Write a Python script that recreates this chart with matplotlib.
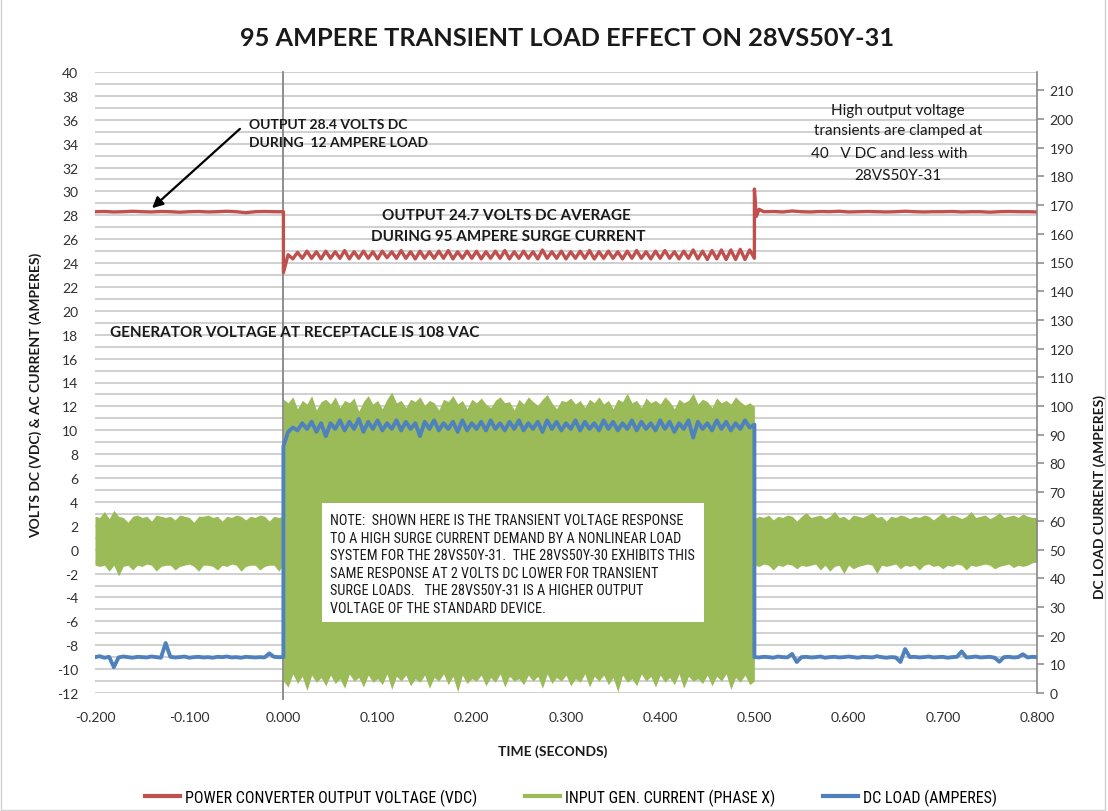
import numpy as np
import matplotlib
matplotlib.use("Agg")
import matplotlib.pyplot as plt
from matplotlib.lines import Line2D
from matplotlib.patches import Rectangle

# ---------------- data ----------------
title = "95 AMPERE TRANSIENT LOAD EFFECT ON 28VS50Y-31"
x_ticks = [-0.2, -0.1, 0.0, 0.1, 0.2, 0.3, 0.4, 0.5, 0.6, 0.7, 0.8]
left_ticks = list(range(-12, 41, 2))
right_ticks = list(range(0, 211, 10))
series_names = ["POWER CONVERTER OUTPUT VOLTAGE (VDC)",
                "INPUT GEN. CURRENT (PHASE X)",
                "DC LOAD (AMPERES)"]

# Power converter output voltage (VDC) - left axis
red_pre_t0, red_pre_dt = -0.20, 0.01          # -0.20 .. 0.00
red_pre = [28.30, 28.32, 28.28, 28.30, 28.34, 28.30, 28.28, 28.32, 28.30, 28.26,
           28.30, 28.32, 28.28, 28.30, 28.34, 28.30, 28.22, 28.30, 28.32, 28.30,
           28.30]
red_surge_t0, red_surge_dt = 0.0, 0.005       # 0.000 .. 0.500
red_surge = [23.20, 24.70, 24.35, 24.90, 24.40, 25.00, 24.40, 24.95, 24.35, 25.00,
             24.40, 24.95, 24.40, 25.05, 24.35, 24.95, 24.40, 25.00, 24.40, 24.95,
             24.35, 25.00, 24.45, 24.95, 24.40, 25.05, 24.40, 24.95, 24.35, 25.00,
             24.40, 24.95, 24.40, 25.00, 24.40, 25.05, 24.35, 24.95, 24.40, 25.00,
             24.40, 25.00, 24.35, 24.95, 24.40, 25.00, 24.40, 25.05, 24.35, 24.95,
             24.40, 25.00, 24.40, 24.95, 24.35, 25.10, 24.40, 24.95, 24.40, 25.00,
             24.35, 24.95, 24.40, 25.00, 24.40, 25.05, 24.35, 24.95, 24.40, 25.00,
             24.40, 24.95, 24.35, 25.00, 24.40, 25.05, 24.40, 24.95, 24.35, 25.00,
             24.40, 25.05, 24.40, 24.95, 24.35, 25.00, 24.40, 25.10, 24.35, 25.00,
             24.30, 25.05, 24.35, 25.10, 24.30, 25.10, 24.30, 25.15, 24.30, 25.10,
             24.40]
red_post_t = [0.500, 0.502, 0.505, 0.51, 0.52, 0.53, 0.54, 0.55, 0.56, 0.57,
              0.58, 0.59, 0.60, 0.61, 0.62, 0.63, 0.64, 0.65, 0.66, 0.67,
              0.68, 0.69, 0.70, 0.71, 0.72, 0.73, 0.74, 0.75, 0.76, 0.77,
              0.78, 0.79, 0.80]
red_post = [30.20, 27.90, 28.50, 28.30, 28.32, 28.28, 28.36, 28.30, 28.28, 28.32,
            28.30, 28.34, 28.28, 28.30, 28.32, 28.30, 28.28, 28.30, 28.34, 28.30,
            28.28, 28.30, 28.30, 28.32, 28.28, 28.30, 28.30, 28.26, 28.30, 28.32,
            28.30, 28.30, 28.28]

# DC load (amperes) - right axis
blue_pre_t0, blue_pre_dt = -0.20, 0.005       # -0.200 .. 0.000
blue_pre = [12.5, 12.8, 12.3, 12.6, 9.0, 12.4, 12.7, 12.5, 12.3, 12.6,
            12.5, 12.4, 12.7, 12.5, 12.3, 17.4, 12.6, 12.4, 12.5, 12.7,
            12.3, 12.5, 12.6, 12.4, 12.5, 12.3, 12.6, 12.5, 12.7, 12.4,
            12.5, 12.3, 12.6, 12.5, 12.4, 12.5, 12.4, 13.8, 12.6, 12.5,
            12.5]
blue_surge_t0, blue_surge_dt = 0.0, 0.005     # 0.000 .. 0.500
blue_surge = [86.0, 91.0, 92.5, 91.5, 94.0, 92.0, 94.5, 91.0, 94.0, 89.5,
              94.0, 92.0, 95.0, 91.5, 94.5, 92.0, 95.5, 91.0, 94.5, 92.0,
              95.0, 91.5, 94.0, 92.0, 95.0, 91.5, 94.5, 92.0, 94.0, 89.5,
              94.5, 92.0, 95.0, 91.5, 94.0, 92.0, 94.5, 91.0, 95.0, 91.5,
              94.0, 92.0, 94.5, 91.5, 95.0, 92.0, 94.0, 91.5, 94.5, 92.0,
              95.0, 91.5, 94.0, 92.0, 94.5, 91.0, 95.0, 92.0, 94.5, 91.5,
              94.0, 92.0, 95.0, 91.5, 94.5, 92.0, 94.0, 91.5, 95.0, 92.0,
              94.5, 91.5, 94.0, 92.0, 95.0, 91.5, 94.5, 92.0, 94.0, 91.5,
              95.0, 92.0, 94.5, 91.0, 94.0, 92.0, 95.0, 89.0, 94.5, 92.0,
              94.0, 91.5, 95.0, 92.0, 94.5, 91.5, 94.0, 92.0, 95.0, 92.5,
              93.5]
blue_post_t0, blue_post_dt = 0.50, 0.005      # 0.500 .. 0.800
blue_post = [12.5, 12.4, 12.6, 12.5, 12.3, 12.7, 12.5, 12.4, 13.6, 10.8,
             12.5, 12.6, 12.4, 12.5, 12.7, 12.3, 12.5, 12.6, 12.4, 12.5,
             12.7, 12.5, 12.3, 12.6, 12.5, 12.4, 12.8, 12.5, 12.3, 12.5,
             12.4, 10.8, 15.3, 12.5, 12.6, 12.4, 12.5, 12.7, 12.4, 12.5,
             12.6, 12.3, 12.5, 12.6, 14.5, 12.4, 12.5, 12.7, 12.4, 12.5,
             12.6, 12.3, 10.9, 12.5, 12.6, 12.4, 12.5, 13.5, 12.4, 12.6,
             12.5]

# Input generator current (phase X) - left axis, upper / lower envelope of the AC trace
green_pre_t0, green_pre_dt = -0.20, 0.005
green_pre_hi = [2.8, 2.7, 3.2, 2.6, 3.3, 2.8, 2.7, 2.3, 2.8, 2.9,
                2.7, 2.8, 2.4, 2.9, 2.8, 2.7, 2.8, 2.5, 2.9, 2.8,
                2.7, 2.3, 2.8, 2.8, 2.9, 2.7, 2.8, 2.4, 2.8, 2.7,
                2.9, 2.8, 2.5, 2.8, 2.7, 2.9, 2.8, 2.4, 2.8, 2.7,
                2.8]
green_pre_lo = [-1.3, -1.4, -1.3, -1.8, -1.3, -2.2, -1.4, -1.3, -1.7, -1.3,
                -1.4, -1.2, -1.3, -1.8, -1.4, -1.3, -1.3, -1.7, -1.4, -1.3,
                -1.2, -1.4, -1.8, -1.3, -1.3, -1.4, -1.7, -1.3, -1.4, -1.2,
                -1.3, -1.8, -1.4, -1.3, -1.3, -1.7, -1.4, -1.3, -1.3, -1.8,
                -1.3]
green_surge_t0, green_surge_dt = 0.0, 0.005
green_surge_hi = [12.6, 12.3, 12.8, 11.8, 12.5, 12.2, 12.9, 11.7, 12.4, 12.6,
                  12.2, 12.8, 11.9, 12.5, 12.3, 12.7, 11.6, 12.4, 12.9, 12.2,
                  12.5, 11.8, 12.6, 13.2, 12.3, 12.5, 11.9, 12.6, 12.4, 12.8,
                  12.1, 12.5, 12.3, 11.7, 12.6, 12.4, 12.9, 12.2, 12.5, 11.8,
                  12.6, 12.3, 12.7, 12.2, 11.9, 12.5, 12.8, 12.3, 12.4, 11.7,
                  12.6, 12.2, 12.8, 12.4, 12.1, 12.6, 13.0, 12.3, 11.8, 12.5,
                  12.4, 12.7, 12.2, 12.5, 11.9, 12.6, 12.3, 12.8, 12.2, 12.5,
                  11.8, 12.6, 12.4, 13.1, 12.3, 12.5, 11.9, 12.7, 12.3, 12.5,
                  12.2, 12.8, 12.4, 11.8, 12.6, 12.3, 12.5, 13.1, 12.2, 12.6,
                  12.4, 11.9, 12.7, 12.3, 12.5, 12.2, 12.8, 12.4, 12.1, 12.3,
                  12.0]
green_surge_lo = [-11.0, -11.5, -10.4, -11.2, -10.6, -11.8, -10.5, -11.1, -10.7, -11.4,
                  -10.5, -11.2, -10.8, -11.6, -10.4, -11.0, -10.7, -11.5, -10.5, -11.1,
                  -10.8, -11.3, -10.4, -11.7, -10.6, -11.0, -10.5, -11.4, -10.8, -11.1,
                  -10.5, -11.6, -10.7, -11.0, -10.4, -11.3, -10.6, -11.9, -10.5, -11.2,
                  -10.8, -11.0, -10.5, -11.4, -10.7, -11.1, -10.4, -11.5, -10.6, -11.0,
                  -10.8, -11.3, -10.5, -11.0, -10.6, -11.6, -10.4, -11.2, -10.7, -11.0,
                  -10.5, -11.4, -10.8, -11.1, -10.4, -11.5, -10.6, -11.0, -10.5, -11.3,
                  -10.7, -11.9, -10.5, -11.1, -10.8, -11.4, -10.4, -11.0, -10.6, -11.5,
                  -10.5, -11.1, -10.7, -11.3, -10.4, -11.6, -10.6, -11.0, -10.8, -11.2,
                  -10.5, -11.4, -10.6, -11.0, -10.4, -11.7, -10.7, -11.1, -10.5, -11.3,
                  -11.0]
green_post_t0, green_post_dt = 0.50, 0.005
green_post_hi = [2.6, 2.8, 2.7, 2.9, 2.5, 2.8, 2.7, 2.9, 2.8, 2.4,
                 2.8, 3.1, 2.7, 2.8, 2.9, 2.6, 2.8, 3.2, 2.7, 2.8,
                 2.5, 2.9, 2.8, 2.7, 2.9, 3.1, 2.7, 2.8, 2.4, 2.8,
                 2.7, 2.9, 2.8, 2.6, 2.8, 2.7, 2.9, 2.8, 2.5, 2.8,
                 3.1, 2.7, 2.9, 2.8, 2.6, 2.8, 3.2, 2.7, 2.8, 2.9,
                 2.6, 2.8, 3.1, 2.7, 2.8, 2.9, 2.7, 3.0, 2.8, 2.7,
                 2.7]
green_post_lo = [-1.3, -1.4, -1.2, -1.3, -1.7, -1.3, -1.4, -1.2, -1.3, -1.6,
                 -1.3, -1.4, -1.3, -1.2, -1.7, -1.3, -1.8, -1.4, -1.3, -2.0,
                 -1.3, -1.6, -1.4, -1.3, -1.2, -1.3, -2.0, -1.3, -1.4, -1.3,
                 -1.2, -1.6, -1.3, -1.4, -1.3, -1.7, -1.3, -1.2, -1.4, -1.3,
                 -1.6, -1.3, -1.4, -1.2, -1.3, -1.7, -1.3, -1.4, -1.3, -1.2,
                 -1.3, -1.6, -1.4, -1.3, -1.2, -1.5, -1.3, -1.4, -1.3, -1.1,
                 -1.0]

note_lines = ["NOTE:  SHOWN HERE IS THE TRANSIENT VOLTAGE RESPONSE",
              "TO A HIGH SURGE CURRENT DEMAND BY A NONLINEAR LOAD",
              "SYSTEM FOR THE 28VS50Y-31.  THE 28VS50Y-30 EXHIBITS THIS",
              "SAME RESPONSE AT 2 VOLTS DC LOWER FOR TRANSIENT",
              "SURGE LOADS.   THE 28VS50Y-31 IS A HIGHER OUTPUT",
              "VOLTAGE OF THE STANDARD DEVICE."]

# ---------------- helpers ----------------
def grid_t(t0, dt, vals):
    return t0 + dt * np.arange(len(vals))

red_t = np.concatenate([grid_t(red_pre_t0, red_pre_dt, red_pre),
                        grid_t(red_surge_t0, red_surge_dt, red_surge),
                        np.array(red_post_t)])
red_v = np.concatenate([red_pre, red_surge, red_post])
blue_t = np.concatenate([grid_t(blue_pre_t0, blue_pre_dt, blue_pre),
                         grid_t(blue_surge_t0, blue_surge_dt, blue_surge),
                         grid_t(blue_post_t0, blue_post_dt, blue_post)])
blue_v = np.concatenate([blue_pre, blue_surge, blue_post])
green_t = np.concatenate([grid_t(green_pre_t0, green_pre_dt, green_pre_hi),
                          grid_t(green_surge_t0, green_surge_dt, green_surge_hi),
                          grid_t(green_post_t0, green_post_dt, green_post_hi)])
green_hi = np.concatenate([green_pre_hi, green_surge_hi, green_post_hi])
green_lo = np.concatenate([green_pre_lo, green_surge_lo, green_post_lo])

RED, GREEN, BLUE = "#C0504D", "#9BBB59", "#4F81BD"
GRID, AXC = "#C4C4C4", "#868686"
FONT = ["Lato", "DejaVu Sans"]
NARROW = ["Liberation Sans Narrow", "Roboto Condensed", "Roboto", "DejaVu Sans"]
plt.rcParams["font.family"] = FONT

W, H = 1108, 812
fig = plt.figure(figsize=(W / 100, H / 100), dpi=100)

def fx(px):
    return px / W

def fy(py):
    return 1 - py / H

ax = fig.add_axes([fx(95), fy(694), 942 / W, 621 / H])
ax.set_xlim(-0.2, 0.8)
ax.set_ylim(-12, 40)
for s in ["left", "top", "bottom", "right"]:
    ax.spines[s].set_visible(False)
ax.set_yticks(left_ticks)
ax.set_yticklabels([str(v) for v in left_ticks], fontsize=10, color="#303030")
ax.set_yticks(range(-12, 41), minor=True)
ax.set_xticks(x_ticks)
ax.set_xticklabels([f"{v:.3f}" for v in x_ticks], fontsize=10, color="#303030")
ax.tick_params(axis="y", which="both", length=0, pad=12)
ax.tick_params(axis="x", length=0, pad=13)
ax.grid(axis="y", which="both", color=GRID, lw=1.1, zorder=0)
ax.set_axisbelow(True)

ax.plot([0, 0], [-12.5, 40], color=AXC, lw=1.3, zorder=1.5, clip_on=False)

ax.fill_between(green_t, green_lo, green_hi, color=GREEN, lw=0, zorder=2)
ax.plot(red_t, red_v, color=RED, lw=2.4, zorder=4, solid_joinstyle="round")

ax2 = ax.twinx()
ax2.set_ylim(0, 621 / 2.87)
for s in ["left", "top", "bottom"]:
    ax2.spines[s].set_visible(False)
ax2.spines["right"].set_color(AXC)
ax2.spines["right"].set_linewidth(1.2)
ax2.set_yticks(right_ticks)
ax2.set_yticklabels([str(v) for v in right_ticks], fontsize=10, color="#303030")
ax2.tick_params(axis="y", length=5, width=1.1, color=AXC, pad=4)
ax2.plot(blue_t, blue_v, color=BLUE, lw=2.8, zorder=3, solid_joinstyle="round")

# title and axis labels
fig.text(fx(567), fy(38), title, ha="center", va="center", fontsize=18.3, fontweight="bold", color="#1a1a1a")
fig.text(fx(36), fy(395), "VOLTS DC (VDC) & AC CURRENT (AMPERES)", rotation=90,
         ha="center", va="center", fontsize=10, fontweight="bold", color="#1a1a1a")
fig.text(fx(1100), fy(497), "DC LOAD CURRENT (AMPERES)", rotation=90,
         ha="center", va="center", fontsize=10, fontweight="bold", color="#1a1a1a")
fig.text(fx(553), fy(752), "TIME (SECONDS)", ha="center", va="center",
         fontsize=10, fontweight="bold", color="#1a1a1a")

# annotations
fig.text(fx(249), fy(125), "OUTPUT 28.4 VOLTS DC", ha="left", va="center",
         fontsize=10, fontweight="bold", color="#1a1a1a")
fig.text(fx(249), fy(143), "DURING  12 AMPERE LOAD", ha="left", va="center",
         fontsize=10, fontweight="bold", color="#1a1a1a")
ax.annotate("", xy=(fx(150), fy(211)), xycoords="figure fraction",
            xytext=(fx(242), fy(128)), textcoords="figure fraction",
            arrowprops=dict(arrowstyle="-|>", color="black", lw=1.6, mutation_scale=16),
            zorder=6)
fig.text(fx(506), fy(216), "OUTPUT 24.7 VOLTS DC AVERAGE", ha="center", va="center",
         fontsize=11, fontweight="bold", color="#1a1a1a")
fig.text(fx(508), fy(237), "DURING 95 AMPERE SURGE CURRENT", ha="center", va="center",
         fontsize=11, fontweight="bold", color="#1a1a1a")
fig.text(fx(110), fy(333), "GENERATOR VOLTAGE AT RECEPTACLE IS 108 VAC", ha="left", va="center",
         fontsize=11, fontweight="bold", color="#1a1a1a")
for txt, cx, cy in [("High output voltage", 898, 111),
                    ("transients are clamped at", 898, 131),
                    ("40   V DC and less with", 889, 154),
                    ("28VS50Y-31", 898, 176)]:
    fig.text(fx(cx), fy(cy), txt, ha="center", va="center", fontsize=11, color="#1a1a1a")

# note box
fig.patches.append(Rectangle((fx(322), fy(623)), 382 / W, 119 / H, transform=fig.transFigure,
                             facecolor="white", edgecolor="none", zorder=5))
for i, line in enumerate(note_lines):
    fig.text(fx(330), fy(521 + i * 17.6), line, ha="left", va="center",
             fontsize=10.3, family=NARROW, color="#1a1a1a", zorder=6)

# legend
handles = [Line2D([], [], color=c, lw=3) for c in (RED, GREEN, BLUE)]
fig.legend(handles, series_names, loc="center", bbox_to_anchor=(fx(571), fy(798)),
           ncol=3, frameon=False, handlelength=2.2, handletextpad=0.3, columnspacing=3.0,
           prop={"family": NARROW, "size": 11.5})

# chart border
fig.patches.append(Rectangle((0.001, 0.001), 0.996, 1.2, transform=fig.transFigure,
                             facecolor="none", edgecolor="#D0D0D0", lw=1, zorder=0))

fig.savefig("out.png", dpi=100)
